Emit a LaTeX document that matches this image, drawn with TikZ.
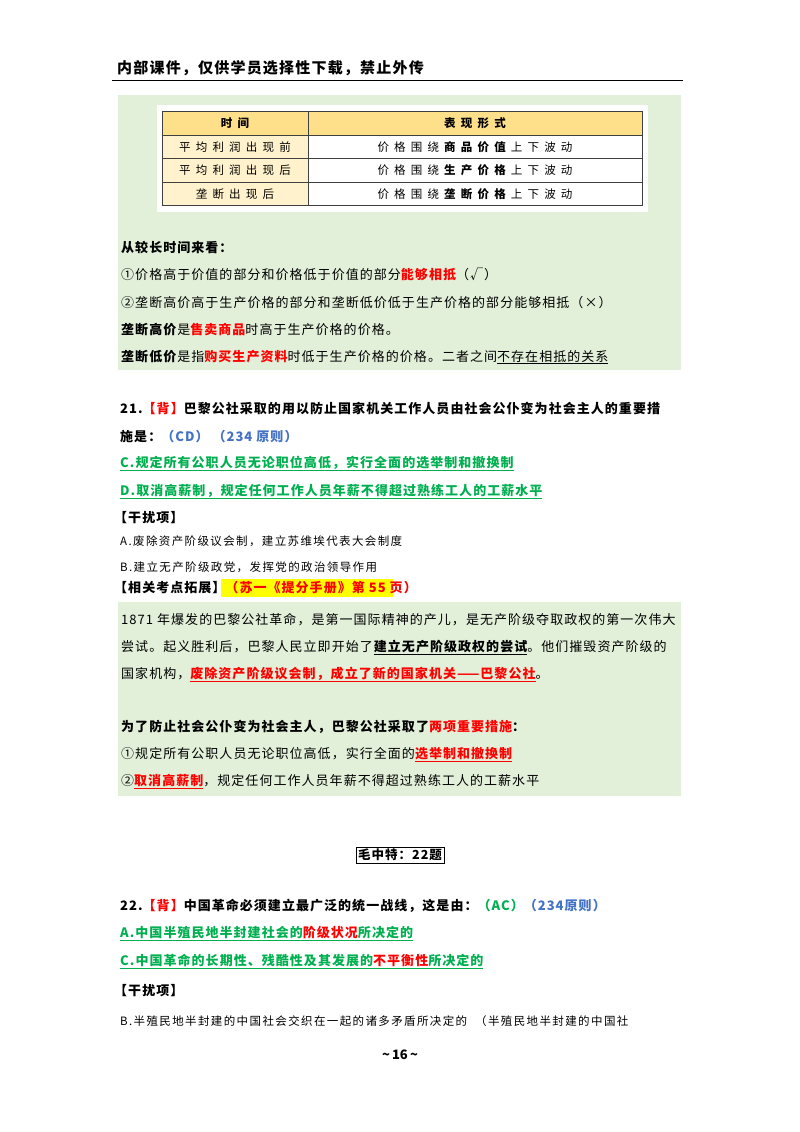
\documentclass[tikz,border=0pt]{standalone}
\usepackage{fontspec}
\setmainfont{Noto Sans CJK SC}
\newfontfamily\bodyf[LetterSpace=8]{Noto Sans CJK SC}
\newfontfamily\cellf[LetterSpace=45]{Noto Sans CJK SC}
\newfontfamily\smallf[LetterSpace=12]{Noto Sans CJK SC}
\definecolor{gbg}{HTML}{E2EFD9}
\definecolor{hdr}{HTML}{FFE08A}
\definecolor{lcol}{HTML}{FFF2CC}
\definecolor{rd}{HTML}{FF0000}
\definecolor{gr}{HTML}{00B050}
\definecolor{bl}{HTML}{4472C4}
\definecolor{hl}{HTML}{FFFF00}
\tikzset{txt/.style={anchor=base west,inner sep=0pt,font=\bodyf\fontsize{13}{15}\selectfont},
 btxt/.style={txt,font=\bodyf\fontsize{13}{15}\selectfont\bfseries},
 stxt/.style={txt,font=\smallf\fontsize{11.5}{13}\selectfont},
 cell/.style={anchor=center,inner sep=0pt,font=\cellf\fontsize{11.5}{13}\selectfont}}
\newcommand{\R}[1]{\textcolor{rd}{#1}}
\newcommand{\RB}[1]{\textcolor{rd}{\bfseries #1}}
\begin{document}
\begin{tikzpicture}[x=1pt,y=-1pt]
\useasboundingbox (0,0) rectangle (800,1132);
\fill[white] (0,0) rectangle (800,1132);
% header
\node[anchor=base west,inner sep=0pt,font=\bodyf\fontsize{15}{17}\selectfont\bfseries] (hd) at (117,74) {内部课件，仅供学员选择性下载，禁止外传};
\draw[line width=0.8pt] (112,80) -- (683,80);
% green box 1
\fill[gbg] (118,95) rectangle (681,370);
\fill[white] (157,105) rectangle (648,212);
\fill[hdr] (162,111) rectangle (642,135);
\fill[lcol] (162,135) rectangle (308,205);
\draw[line width=0.6pt,black!75] (162,111) rectangle (642,205);
\foreach \yy in {135,158,182} \draw[line width=0.6pt,black!75] (162,\yy) -- (642,\yy);
\draw[line width=0.6pt,black!75] (308,111) -- (308,205);
\node[cell,font=\cellf\fontsize{11.5}{13}\selectfont\bfseries] (c11) at (235,123) {时间};
\node[cell,font=\cellf\fontsize{11.5}{13}\selectfont\bfseries] (c12) at (475,123) {表现形式};
\node[cell] (c21) at (235,147) {平均利润出现前};
\node[cell] (c22) at (475,147) {价格围绕\textbf{商品价值}上下波动};
\node[cell] (c31) at (235,170) {平均利润出现后};
\node[cell] (c32) at (475,170) {价格围绕\textbf{生产价格}上下波动};
\node[cell] (c41) at (235,194) {垄断出现后};
\node[cell] (c42) at (475,194) {价格围绕\textbf{垄断价格}上下波动};
\node[btxt] (l1) at (121,252) {从较长时间来看：};
\node[txt] (l2) at (121,279) {①价格高于价值的部分和价格低于价值的部分\RB{能够相抵}（√）};
\node[txt] (l3) at (121,307) {②垄断高价高于生产价格的部分和垄断低价低于生产价格的部分能够相抵（×）};
\node[txt] (l4) at (121,334) {\textbf{垄断高价}是\RB{售卖商品}时高于生产价格的价格。};
\node[txt] (l5) at (121,361) {\textbf{垄断低价}是指\RB{购买生产资料}时低于生产价格的价格。二者之间\underline{不存在相抵的关系}};
% Q21
\node[btxt] (q1) at (120,413) {21.\R{【背】}巴黎公社采取的用以防止国家机关工作人员由社会公仆变为社会主人的重要措};
\node[btxt] (q2) at (120,441) {施是：\textcolor{bl}{（CD）\hspace{4pt}（234 原则）}};
\node[btxt,text=gr] (q3) at (120,467) {\underline{C.规定所有公职人员无论职位高低，实行全面的选举制和撤换制}};
\node[btxt,text=gr] (q4) at (120,495) {\underline{D.取消高薪制，规定任何工作人员年薪不得超过熟练工人的工薪水平}};
\node[btxt] (q5) at (114,522) {【干扰项】};
\node[stxt] (q6) at (120,545) {A.废除资产阶级议会制，建立苏维埃代表大会制度};
\node[stxt] (q7) at (120,571) {B.建立无产阶级政党，发挥党的政治领导作用};
\fill[hl] (221,579) rectangle (393,597);
\node[btxt] (q8) at (114,592) {【相关考点拓展】\R{（苏一《提分手册》第 55 页）}};
% green box 2
\fill[gbg] (118,602) rectangle (681,796);
\node[txt] (p1) at (121,624) {1871 年爆发的巴黎公社革命，是第一国际精神的产儿，是无产阶级夺取政权的第一次伟大};
\node[txt] (p2) at (121,651) {尝试。起义胜利后，巴黎人民立即开始了\textbf{\underline{建立无产阶级政权的尝试}}。他们摧毁资产阶级的};
\node[txt] (p3) at (121,678) {国家机构，\RB{\underline{废除资产阶级议会制，成立了新的国家机关——巴黎公社}}。};
\node[btxt] (p4) at (121,731) {为了防止社会公仆变为社会主人，巴黎公社采取了\R{两项重要措施}：};
\node[txt] (p5) at (121,758) {①规定所有公职人员无论职位高低，实行全面的\RB{\underline{选举制和撤换制}}};
\node[txt] (p6) at (121,785) {②\RB{\underline{取消高薪制}}，规定任何工作人员年薪不得超过熟练工人的工薪水平};
% Mao
\node[draw,line width=0.7pt,inner sep=2pt,font=\bodyf\fontsize{12.5}{14}\selectfont\bfseries] (m) at (400,855) {毛中特：22题};
\node[btxt] (r1) at (120,910) {22.\R{【背】}中国革命必须建立最广泛的统一战线，这是由：\textcolor{gr}{（AC）}\textcolor{bl}{（234原则）}};
\node[btxt,text=gr] (r2) at (120,937) {\underline{A.中国半殖民地半封建社会的\R{阶级状况}所决定的}};
\node[btxt,text=gr] (r3) at (120,965) {\underline{C.中国革命的长期性、残酷性及其发展的\R{不平衡性}所决定的}};
\node[btxt] (r4) at (114,995) {【干扰项】};
\node[stxt] (r5) at (120,1025) {B.半殖民地半封建的中国社会交织在一起的诸多矛盾所决定的\hspace{8pt}（半殖民地半封建的中国社};
\node[anchor=center,inner sep=0pt,font=\fontsize{13}{15}\selectfont\bfseries] (pg) at (400,1055) {\textasciitilde\,16\,\textasciitilde};
\end{tikzpicture}
\end{document}
